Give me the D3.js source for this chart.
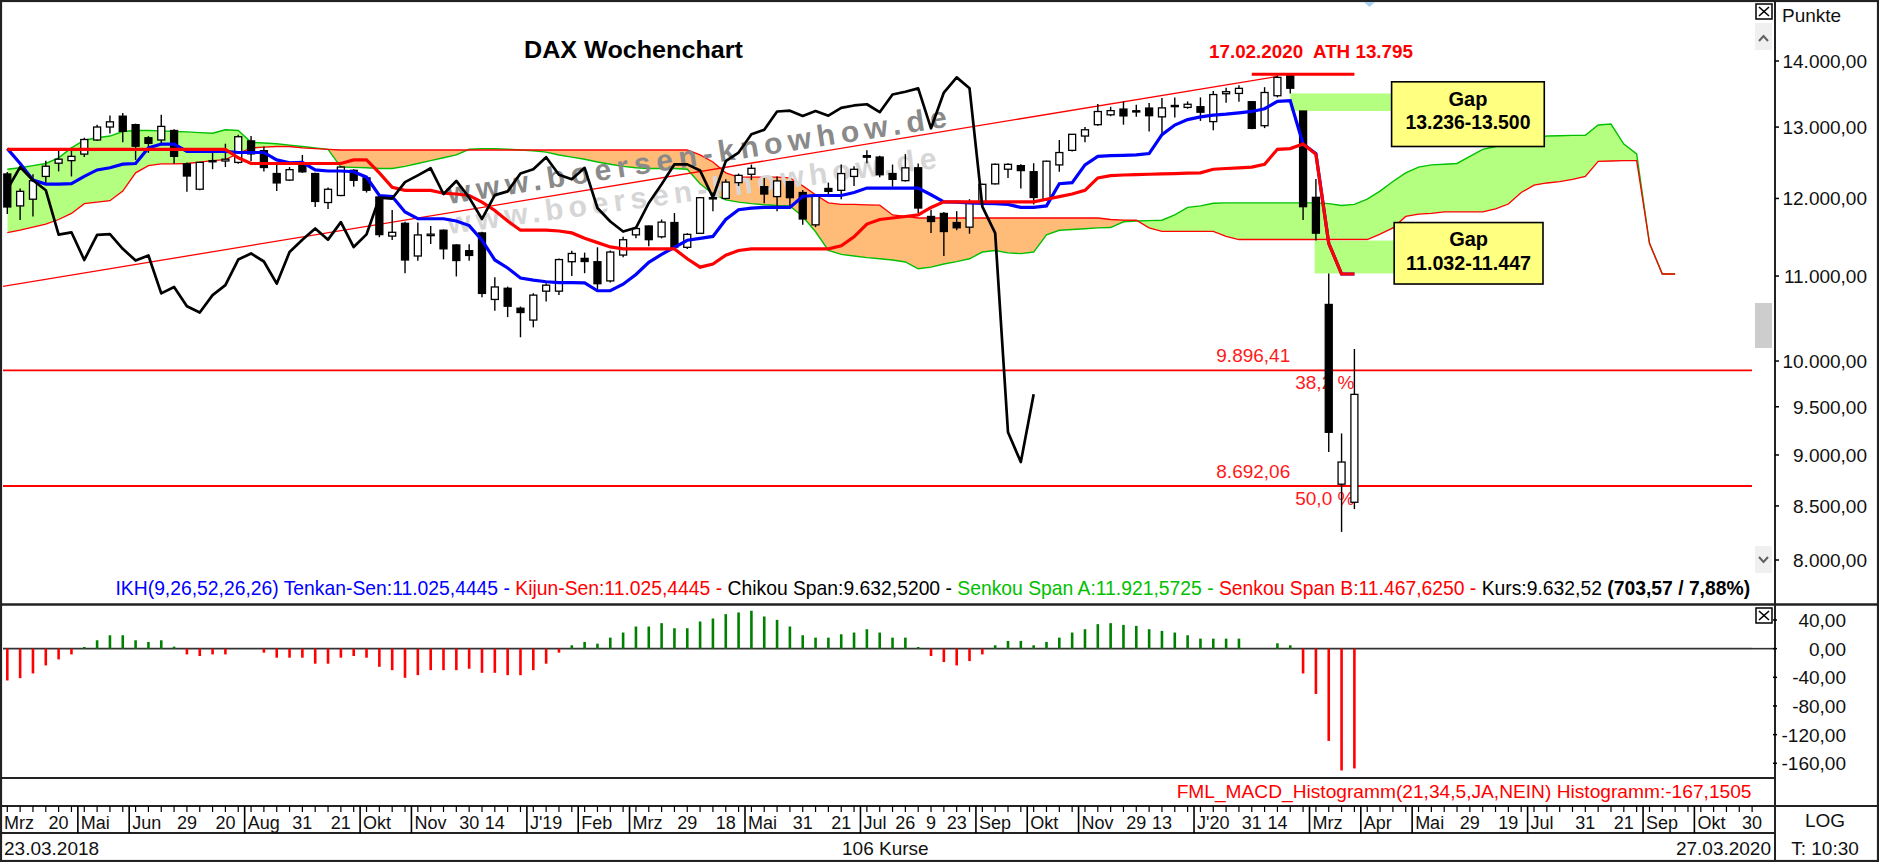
<!DOCTYPE html>
<html><head><meta charset="utf-8">
<script src="https://cdn.jsdelivr.net/npm/d3@7"></script>
<style>
html,body{margin:0;padding:0;background:#fff;}
svg{display:block;font-family:"Liberation Sans",Arial,sans-serif;}
text{white-space:pre;}
</style></head><body>
<svg id="c" width="1879" height="862"></svg>
<script>
// ---------------- DATA ----------------
const open = [12334,11900,11990,12300,12484,12520,12612,12813,13001,13160,
13035,12845,12813,12950,12475,12125,12505,12515,12495,12800,
12660,12340,12250,12460,12340,11945,12040,12385,12280,12020,
11504,11670,11250,11510,11580,11390,11317,11545,10715,10850,
10610,10470,10815,10815,11178,11220,11178,10940,11262,11520,
11635,11495,11680,11360,11540,12010,12000,12215,12330,12160,
12025,12228,12080,11650,12135,12110,12300,12590,12570,12340,
12242,12420,11760,11800,11680,11620,11950,12198,12400,12450,
12365,11985,12460,12665,12870,13035,13180,13265,13240,13280,
13150,13310,13290,13300,13080,13495,13500,13375,13020,13465,
13785,13236,12015,10655,8710,8535];
const high = [12360,12135,12330,12520,12670,12690,12845,13035,13170,13208,
13050,12870,13180,12970,12495,12495,12690,12760,12890,12870,
12720,12460,12430,12600,12350,12150,12440,12400,12300,12030,
11845,11690,11680,11635,11590,11400,11400,11560,10985,10870,
10630,10790,10910,11220,11317,11293,11360,11320,11495,11625,
11640,11720,11805,11540,12020,12080,12260,12340,12465,12280,
12300,12240,12115,12060,12215,12465,12440,12665,12590,12465,
12612,12480,11850,11820,11830,11990,12200,12480,12484,12470,
12484,12520,12813,12900,13000,13340,13300,13380,13330,13355,
13430,13440,13380,13440,13535,13585,13625,13385,13595,13795,
13795,13236,12265,11032,9220,10136];
const low = [11794,11713,11758,12190,12370,12300,12570,12800,12905,12780,
12530,12630,12735,12475,12090,12110,12400,12430,12475,12510,
12370,12100,12240,12350,11885,11860,12030,12160,12080,11490,
11453,11035,11190,11402,11208,10995,11190,10740,10580,10505,
10270,10385,10690,10770,11000,11035,10835,10920,11233,11475,
11375,11475,11340,11340,11530,11830,11990,12170,12250,11935,
11830,11885,11650,11620,12040,11990,12170,12484,12290,12160,
12230,11805,11545,11250,11580,11535,11900,12190,12280,12135,
11920,11970,12365,12650,12780,13020,13160,13035,13150,12935,
12915,13140,13270,13090,12955,13360,13375,12970,12985,13440,
13500,11713,11447,9030,8256,8470];
const close = [11886,12096,12241,12442,12540,12580,12820,13001,13077,12938,
12724,12766,13010,12580,12306,12496,12520,12540,12860,12615,
12424,12211,12394,12364,11960,12124,12430,12247,12111,11523,
11553,11200,11519,11529,11341,11193,11257,10788,10866,10634,
10559,10767,10888,11205,11282,11181,10906,11300,11457,11602,
11458,11686,11364,11526,12010,11999,12222,12315,12413,12060,
12238,12011,11727,12045,12096,12340,12399,12568,12323,12260,
12419,11872,11694,11563,11612,11939,12192,12469,12468,12381,
12013,12512,12634,12895,12961,13229,13242,13164,13236,13167,
13283,13319,13337,13219,13483,13526,13577,12982,13514,13745,
13579,11890,11542,9232,8929,9633];
const tenkan = [12690,12480,12250,12195,12195,12200,12300,12390,12420,12470,
12480,12700,12755,12755,12650,12650,12650,12650,12635,12635,
12635,12530,12490,12495,12390,12375,12375,12365,12290,12040,
12025,11820,11730,11730,11730,11700,11640,11450,11200,11100,
10975,10950,10930,10920,10920,10915,10820,10820,10900,11020,
11170,11270,11360,11450,11475,11500,11720,11850,11870,11880,
11880,11880,12030,12040,12040,12040,12080,12140,12140,12140,
12140,12140,12050,11955,11950,11940,11935,11930,11920,11880,
11880,11900,12200,12215,12460,12580,12590,12595,12600,12620,
12890,13030,13110,13150,13175,13190,13210,13230,13270,13380,
13390,12755,12620,11412,11025,11025];
const kijun = [12680,12680,12680,12680,12680,12680,12680,12680,12680,12680,
12680,12680,12680,12680,12680,12680,12680,12680,12560,12480,
12480,12480,12480,12480,12480,12480,12480,12530,12530,12350,
12150,12110,12110,12110,12070,12060,12040,11950,11840,11700,
11580,11580,11580,11570,11545,11475,11420,11365,11340,11340,
11340,11340,11340,11215,11110,11150,11260,11320,11340,11340,
11340,11340,11340,11340,11340,11380,11495,11660,11720,11740,
11760,11780,11880,11955,11955,11955,11955,11955,11955,11955,
11955,11990,12025,12060,12110,12280,12310,12320,12325,12330,
12335,12340,12345,12350,12400,12410,12420,12430,12470,12680,
12690,12755,12610,11412,11025,11025];
const senkouA = [12400,12420,12450,12480,12560,12700,12810,12845,12870,12935,
12950,12950,12945,12935,12930,12920,12910,12960,12950,12780,
12770,12760,12740,12720,12700,12680,12430,12425,12420,12410,
12410,12440,12480,12520,12560,12600,12680,12690,12690,12680,
12670,12660,12640,12600,12570,12540,12500,12470,12440,12420,
12410,12410,12410,12400,12200,12060,11980,11950,11930,11915,
11905,11900,11760,11560,11320,11270,11250,11230,11215,11200,
11175,11090,11110,11150,11180,11215,11300,11320,11290,11280,
11300,11520,11580,11590,11600,11610,11615,11690,11700,11705,
11710,11780,11880,11900,11935,11940,11940,11940,11940,11940,
11940,11940,11940,11930,11905,11920,11990,12100,12230,12350,
12430,12460,12470,12480,12580,12680,12720,12770,12800,12840,
12870,12875,12880,12880,13030,13045,12755,12615,11412,11025,
11025];
const senkouB = [11550,11580,11620,11660,11720,11800,11930,11950,11970,12100,
12350,12450,12475,12475,12480,12500,12520,12535,12620,12700,
12710,12720,12720,12700,12690,12680,12670,12670,12670,12670,
12670,12670,12670,12670,12670,12670,12670,12670,12670,12670,
12670,12670,12670,12670,12670,12670,12670,12670,12670,12670,
12670,12670,12670,12670,12600,12500,12350,12290,12290,12290,
12290,12280,12170,12050,11940,11920,11920,11915,11910,11780,
11760,11740,11740,11740,11740,11740,11740,11740,11740,11740,
11740,11740,11740,11740,11740,11740,11720,11713,11710,11610,
11565,11565,11565,11565,11565,11500,11460,11460,11460,11460,
11460,11460,11460,11460,11460,11460,11460,11530,11610,11760,
11790,11800,11820,11820,11820,11820,11860,11925,12080,12180,
12210,12230,12260,12300,12510,12515,12520,12520,11412,11025,
11025];
const macd = [-44.4,-41.2,-34.6,-23.4,-15,-8,2.3,11.7,18.7,18.7,
11.7,9.4,11.7,2.8,-8,-10.3,-8,-8,0,0,
-5.6,-12.6,-12.6,-12.6,-21,-21,-12.6,-10.3,-12.6,-25.3,
-30,-40.7,-37,-30,-30,-30,-28,-33.7,-33.7,-37,
-37,-30,-21,-5.6,4.7,9.4,7,15.4,22.5,30.9,
30.9,35.6,28.5,28.5,37.9,42.1,48.2,50.5,52.9,44.9,
40.2,30.9,18.7,15.4,15.4,20.1,22.5,27.1,22.5,15.4,
15.4,2.3,-10.3,-18.7,-23.4,-17.3,-8,4.7,10.8,10.8,
4.7,9.4,15.4,22.5,27.1,34.2,35.6,33.2,31.8,27.1,
24.8,22.5,18.7,14,14,14,14,0,0,7.5,
4.7,-34.6,-63.2,-128.7,-170,-167.15];
const chikouShift = 25;
const trendLine = [[-0.5,10870],[99,13760]];
const athLine = [[97,13795],[105,13795]];
const fibLevels = [{v:9896.41,label:"9.896,41",pct:"38,2 %"},{v:8692.06,label:"8.692,06",pct:"50,0 %"}];
const gaps = [{from:100,lo:13236,hi:13500,label:"13.236-13.500"},{from:101.9,lo:11032,hi:11447,label:"11.032-11.447"}];
const priceTicks = [8000,8500,9000,9500,10000,11000,12000,13000,14000];
const macdTicks = [40,0,-40,-80,-120,-160];
const dateLabels = [[0,"Mrz"],[4,"20"],[6,"Mai"],[10,"Jun"],[14,"29"],[17,"20"],[19,"Aug"],[23,"31"],[26,"21"],[28,"Okt"],
[32,"Nov"],[36,"30"],[38,"14"],[41,"J'19"],[45,"Feb"],[49,"Mrz"],[53,"29"],[56,"18"],[58,"Mai"],[62,"31"],
[65,"21"],[67,"Jul"],[70,"26"],[72,"9"],[74,"23"],[76,"Sep"],[80,"Okt"],[84,"Nov"],[88,"29"],[90,"13"],
[93,"J'20"],[97,"31"],[99,"14"],[102,"Mrz"],[106,"Apr"],[110,"Mai"],[114,"29"],[117,"19"],[119,"Jul"],[123,"31"],
[126,"21"],[128,"Sep"],[132,"Okt"],[136,"30"]];
const legendParts = [
 {t:"IKH(9,26,52,26,26) Tenkan-Sen:11.025,4445 - ",c:"#0000ff"},
 {t:"Kijun-Sen:11.025,4445 - ",c:"#ff0000"},
 {t:"Chikou Span:9.632,5200 - ",c:"#000000"},
 {t:"Senkou Span A:11.921,5725 - ",c:"#00c000"},
 {t:"Senkou Span B:11.467,6250 - ",c:"#ff0000"},
 {t:"Kurs:9.632,52 ",c:"#000000"},
 {t:"(703,57 / 7,88%)",c:"#000000",b:true}];
const macdLabel = "FML_MACD_Histogramm(21,34,5,JA,NEIN) Histogramm:-167,1505";

// ---------------- LAYOUT ----------------
const svg = d3.select("#c");
const x = d3.scaleLinear().domain([0,105]).range([7.3,1354.4]);
const y = d3.scaleLog().domain([8000,14000]).range([560,61]);
const ym = d3.scaleLinear().domain([-160,40]).range([763.3,620]);
const AX = 1775, PR = 1752;
const fmt = d3.formatLocale({decimal:",",thousands:".",grouping:[3],currency:["","€"],minus:"-"}).format(",.2f");
const defs = svg.append("defs");
defs.append("clipPath").attr("id","mainClip").append("rect").attr("x",3).attr("y",3).attr("width",PR-3).attr("height",600);
defs.append("clipPath").attr("id","macdClip").append("rect").attr("x",3).attr("y",606).attr("width",PR-3).attr("height",171);
const idx = d3.range(senkouB.length);
defs.append("clipPath").attr("id","aboveB").append("path")
  .attr("d", d3.area().x(i=>x(i)).y0(0).y1(i=>y(senkouB[i]))(idx));
defs.append("clipPath").attr("id","belowB").append("path")
  .attr("d", d3.area().x(i=>x(i)).y0(862).y1(i=>y(senkouB[i]))(idx));

svg.append("rect").attr("width",1879).attr("height",862).attr("fill","#fff");
const g = svg.append("g").attr("clip-path","url(#mainClip)");

// cloud
const band = d3.area().x(i=>x(i)).y0(i=>y(senkouA[i])).y1(i=>y(senkouB[i]));
g.append("path").attr("d",band(idx)).attr("fill","#b4ff80").attr("clip-path","url(#aboveB)");
g.append("path").attr("d",band(idx)).attr("fill","#ffbb78").attr("clip-path","url(#belowB)");
const lineIdx = arr => d3.line().x((d,i)=>x(i)).y(d=>y(d))(arr);
g.append("path").attr("d",lineIdx(senkouA)).attr("fill","none").attr("stroke","#00c000").attr("stroke-width",1.4);
g.append("path").attr("d",lineIdx(senkouB)).attr("fill","none").attr("stroke","#ff0000").attr("stroke-width",1.3);

// watermarks
[{tx:449,ty:204,rot:-8.8,len:505,col:"#8a8a8a"},{tx:449,ty:234,rot:-7.7,len:493,col:"#d6d6d6"}].forEach(w=>{
  g.append("text").attr("transform",`translate(${w.tx},${w.ty}) rotate(${w.rot})`)
   .attr("font-size",30).attr("font-weight","bold").attr("fill",w.col)
   .attr("textLength",w.len).attr("lengthAdjust","spacing").text("www.boersen-knowhow.de");
});

// trendline
const pl = d3.line().x(d=>x(d[0])).y(d=>y(d[1]));
g.append("path").attr("d",pl(trendLine)).attr("stroke","#ff0000").attr("stroke-width",1.3).attr("fill","none");

// fib lines
fibLevels.forEach(f=>{
  g.append("line").attr("x1",3).attr("x2",PR).attr("y1",y(f.v)).attr("y2",y(f.v)).attr("stroke","#ff0000").attr("stroke-width",1.8);
  g.append("text").attr("x",x(100)).attr("y",y(f.v)-8).attr("text-anchor","end").attr("font-size",19).attr("fill","#ff1a1a").text(f.label);
  g.append("text").attr("x",x(105)).attr("y",y(f.v)+19).attr("text-anchor","end").attr("font-size",19).attr("fill","#ff1a1a").text(f.pct);
});

// gap zones
const boxes = [{i0:107.9,i1:119.8,pTop:13677,pBot:12720},{i0:108.1,i1:119.7,pTop:11680,pBot:10902}];
gaps.forEach((gp,k)=>{
  g.append("rect").attr("x",x(gp.from)).attr("width",x(boxes[k].i0)-x(gp.from))
   .attr("y",y(gp.hi)).attr("height",y(gp.lo)-y(gp.hi)).attr("fill","#b4ff80");
});

// candles
const cg = g.append("g");
const ci = d3.range(close.length);
cg.selectAll("line.w").data(ci).join("line").attr("x1",i=>x(i)).attr("x2",i=>x(i))
  .attr("y1",i=>y(high[i])).attr("y2",i=>y(low[i])).attr("stroke","#000").attr("stroke-width",1.4);
cg.selectAll("rect.b").data(ci).join("rect")
  .attr("x",i=>x(i)-3.5).attr("width",7)
  .attr("y",i=>y(Math.max(open[i],close[i])))
  .attr("height",i=>Math.max(1.2,y(Math.min(open[i],close[i]))-y(Math.max(open[i],close[i]))))
  .attr("fill",i=>close[i]>=open[i]?"#fff":"#000").attr("stroke","#000").attr("stroke-width",1.3);

// ichimoku lines
g.append("path").attr("d",lineIdx(tenkan)).attr("fill","none").attr("stroke","#0000ff").attr("stroke-width",3.2);
g.append("path").attr("d",lineIdx(kijun)).attr("fill","none").attr("stroke","#ff0000").attr("stroke-width",3.2);
const chikou = d3.range(close.length-chikouShift).map(i=>[i,close[i+chikouShift]]);
g.append("path").attr("d",pl(chikou)).attr("fill","none").attr("stroke","#000").attr("stroke-width",2.7).attr("stroke-linejoin","round");
g.append("path").attr("d",pl(athLine)).attr("stroke","#ff0000").attr("stroke-width",3).attr("fill","none");

// gap boxes
boxes.forEach((b,k)=>{
  const bx=x(b.i0), bw=x(b.i1)-x(b.i0), by=y(b.pTop), bh=y(b.pBot)-y(b.pTop);
  g.append("rect").attr("x",bx).attr("y",by).attr("width",bw).attr("height",bh).attr("fill","#ffff80").attr("stroke","#000").attr("stroke-width",1.6);
  g.append("text").attr("x",bx+bw/2).attr("y",by+bh*0.27+7).attr("text-anchor","middle").attr("font-size",20).attr("font-weight","bold").attr("fill","#000").text("Gap");
  g.append("text").attr("x",bx+bw/2).attr("y",by+40+7).attr("text-anchor","middle").attr("font-size",20).attr("font-weight","bold").attr("fill","#000")
    .attr("textLength",125).attr("lengthAdjust","spacingAndGlyphs").text(gaps[k].label);
});

// titles
svg.append("text").attr("x",524).attr("y",58).attr("font-size",24).attr("font-weight","bold").attr("fill","#000")
  .attr("textLength",219).attr("lengthAdjust","spacingAndGlyphs").text("DAX Wochenchart");
svg.append("text").attr("x",1209).attr("y",58).attr("font-size",18).attr("font-weight","bold").attr("fill","#ff0000")
  .attr("textLength",204).attr("lengthAdjust","spacingAndGlyphs").text("17.02.2020  ATH 13.795");

// legend
const lg = svg.append("text").attr("x",115.5).attr("y",595).attr("font-size",18);
legendParts.forEach(p=>lg.append("tspan").attr("fill",p.c).attr("font-weight",p.b?"bold":null).text(p.t));
{ const w = lg.node().getComputedTextLength(); lg.attr("font-size",18*1636/w); }

// MACD
const mg = svg.append("g").attr("clip-path","url(#macdClip)");
mg.append("line").attr("x1",3).attr("x2",AX).attr("y1",ym(0)).attr("y2",ym(0)).attr("stroke","#333").attr("stroke-width",1.6);
mg.selectAll("line.m").data(ci).join("line").attr("x1",i=>x(i)).attr("x2",i=>x(i))
  .attr("y1",ym(0)).attr("y2",i=>ym(macd[i])).attr("stroke",i=>macd[i]>=0?"#008000":"#ff0000").attr("stroke-width",2.6);
svg.append("line").attr("x1",PR).attr("x2",AX).attr("y1",ym(0)).attr("y2",ym(0)).attr("stroke","#333").attr("stroke-width",1.6);
const ml = svg.append("text").attr("x",1751.5).attr("y",798).attr("text-anchor","end").attr("font-size",18).attr("fill","#ff0000").text(macdLabel);
{ const w = ml.node().getComputedTextLength(); ml.attr("font-size",18*575/w); }

// frame lines
const ln=(x1,y1,x2,y2,w,c)=>svg.append("line").attr("x1",x1).attr("y1",y1).attr("x2",x2).attr("y2",y2).attr("stroke",c||"#222").attr("stroke-width",w);
ln(0,604.5,1879,604.5,2.5);
ln(0,778,AX,778,2);
ln(0,806,1879,806,2);
ln(0,833,AX,833,2);
ln(AX,0,AX,862,2);
svg.append("rect").attr("x",1).attr("y",1).attr("width",1877).attr("height",860).attr("fill","none").attr("stroke","#222").attr("stroke-width",2.2);

// right axis
svg.append("text").attr("x",1782).attr("y",22).attr("font-size",19).attr("fill","#111").text("Punkte");
priceTicks.forEach(v=>{
  ln(AX,y(v),AX+4,y(v),1.5,"#000");
  svg.append("text").attr("x",1867).attr("y",y(v)+7).attr("text-anchor","end").attr("font-size",19).attr("fill","#111").text(fmt(v));
});
macdTicks.forEach(v=>{
  ln(AX-2,ym(v),AX+2,ym(v),1.5,"#000");
  svg.append("text").attr("x",1846).attr("y",ym(v)+7).attr("text-anchor","end").attr("font-size",19).attr("fill","#111").text(fmt(v));
});

// scrollbar + close boxes
const closeBox=(bx,by)=>{
  svg.append("rect").attr("x",bx).attr("y",by).attr("width",16).attr("height",15).attr("fill","#fff").attr("stroke","#000").attr("stroke-width",1.5);
  ln(bx+3,by+3,bx+13,by+12,1.6,"#000"); ln(bx+13,by+3,bx+3,by+12,1.6,"#000");
};
closeBox(1756,4); closeBox(1756,608);
svg.append("rect").attr("x",1755).attr("y",23).attr("width",17).attr("height",27).attr("fill","#f0f0f0");
svg.append("path").attr("d","M1759,41 L1763.5,36 L1768,41").attr("fill","none").attr("stroke","#606060").attr("stroke-width",2);
svg.append("rect").attr("x",1755).attr("y",303).attr("width",17).attr("height",45).attr("fill","#cdcdcd");
svg.append("rect").attr("x",1755).attr("y",546).attr("width",17).attr("height",27).attr("fill","#f0f0f0");
svg.append("path").attr("d","M1759,557 L1763.5,562 L1768,557").attr("fill","none").attr("stroke","#606060").attr("stroke-width",2);
svg.append("path").attr("d","M1364,2 L1375,2 L1369.5,7 Z").attr("fill","#a8d0f0");

// date axis
const xa = svg.append("g");
d3.range(0,137).forEach(i=>ln(x(i),806,x(i),812,1.2,"#000"));
dateLabels.forEach(([i,t])=>{
  const isMonth = isNaN(+t);
  if(isMonth && i>0) ln(x(i-0.5),806,x(i-0.5),833,1.6,"#000");
  xa.append("text").attr("x",isMonth?Math.max(4,x(i-0.5)+3):x(i)).attr("y",829)
    .attr("text-anchor",isMonth?"start":"middle").attr("font-size",18).attr("fill","#111").text(t);
});
svg.append("text").attr("x",4).attr("y",855).attr("font-size",19).attr("fill","#111").text("23.03.2018");
svg.append("text").attr("x",842).attr("y",855).attr("font-size",19).attr("fill","#111").text("106 Kurse");
svg.append("text").attr("x",1771).attr("y",855).attr("text-anchor","end").attr("font-size",19).attr("fill","#111").text("27.03.2020");
svg.append("text").attr("x",1825).attr("y",827).attr("text-anchor","middle").attr("font-size",19).attr("fill","#111").text("LOG");
svg.append("text").attr("x",1825).attr("y",855).attr("text-anchor","middle").attr("font-size",19).attr("fill","#111").text("T: 10:30");
</script>
</body></html>
